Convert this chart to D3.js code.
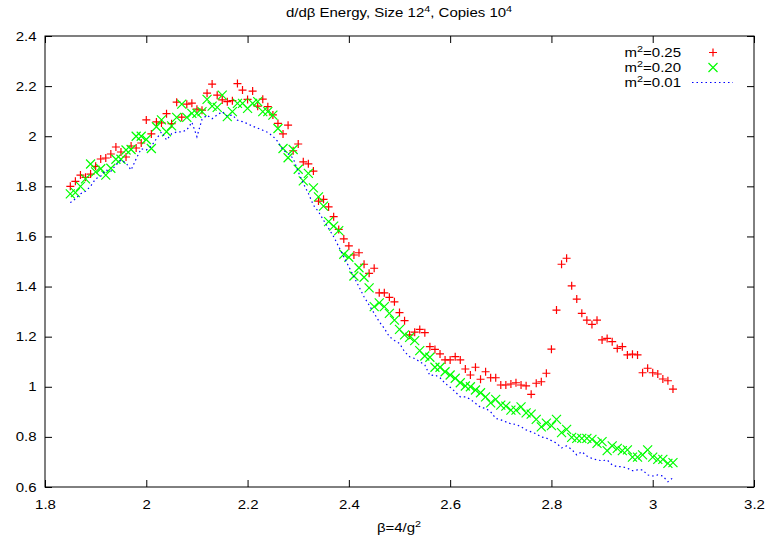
<!DOCTYPE html>
<html>
<head>
<meta charset="utf-8">
<script src="https://cdn.jsdelivr.net/npm/d3@7"></script>
<style>
  body { margin: 0; background: #fff; }
  svg { display: block; }
  text { font-family: "Liberation Sans", Arial, Helvetica, sans-serif; fill: #000; }
</style>
</head>
<body>
<svg id="chart" width="768" height="547"></svg>
<script>
// beta = 4/g^2 sample points
const beta = [
  1.85,1.86,1.87,1.88,1.89,1.90,1.91,1.92,1.93,1.94,
  1.95,1.96,1.97,1.98,1.99,2.00,2.01,2.02,2.03,2.04,
  2.05,2.06,2.07,2.08,2.09,2.10,2.11,2.12,2.13,2.14,
  2.15,2.16,2.17,2.18,2.19,2.20,2.21,2.22,2.23,2.24,
  2.25,2.26,2.27,2.28,2.29,2.30,2.31,2.32,2.33,2.34,
  2.35,2.36,2.37,2.38,2.39,2.40,2.41,2.42,2.43,2.44,
  2.45,2.46,2.47,2.48,2.49,2.50,2.51,2.52,2.53,2.54,
  2.55,2.56,2.57,2.58,2.59,2.60,2.61,2.62,2.63,2.64,
  2.65,2.66,2.67,2.68,2.69,2.70,2.71,2.72,2.73,2.74,
  2.75,2.76,2.77,2.78,2.79,2.80,2.81,2.82,2.83,2.84,
  2.85,2.86,2.87,2.88,2.89,2.90,2.91,2.92,2.93,2.94,
  2.95,2.96,2.97,2.98,2.99,3.00,3.01,3.02,3.03,3.04
];

// d/dbeta Energy, m^2 = 0.25
const m2_025 = [
  1.80,1.82,1.845,1.836,1.849,1.88,1.909,1.913,1.929,1.957,
  1.937,1.917,1.961,1.953,1.973,2.065,2.009,2.057,2.053,2.09,
  2.05,2.136,2.076,2.128,2.132,2.108,2.104,2.172,2.208,2.164,
  2.145,2.138,2.142,2.21,2.184,2.147,2.18,2.12,2.148,2.118,
  2.085,2.051,2.009,2.044,1.942,1.969,1.898,1.89,1.861,1.741,
  1.748,1.718,1.679,1.628,1.59,1.562,1.526,1.535,1.489,1.453,
  1.473,1.375,1.375,1.357,1.339,1.296,1.264,1.207,1.218,1.229,
  1.216,1.16,1.149,1.131,1.107,1.107,1.12,1.107,1.071,1.047,
  1.078,1.03,1.06,1.036,1.036,1.007,1.007,1.011,1.016,1.007,
  1.004,0.97,1.014,1.02,1.054,1.15,1.306,1.489,1.513,1.403,
  1.35,1.293,1.266,1.249,1.266,1.187,1.193,1.18,1.153,1.16,
  1.127,1.13,1.127,1.056,1.074,1.056,1.051,1.031,1.024,0.991
];

// m^2 = 0.20
const m2_020 = [
  1.77,1.775,1.80,1.83,1.889,1.858,1.87,1.845,1.872,1.908,
  1.908,1.945,1.947,2.0,2.0,1.987,1.951,2.038,2.065,2.018,
  2.041,2.075,2.128,2.075,2.091,2.091,2.098,2.147,2.12,2.115,
  2.164,2.078,2.098,2.131,2.131,2.111,2.131,2.138,2.098,2.098,
  2.084,2.031,1.951,1.914,1.947,1.868,1.822,1.852,1.794,1.758,
  1.721,1.659,1.641,1.623,1.529,1.517,1.442,1.475,1.437,1.395,
  1.32,1.335,1.32,1.293,1.266,1.229,1.207,1.197,1.184,1.144,
  1.123,1.118,1.078,1.078,1.06,1.047,1.034,1.016,1.003,1.0,
  0.987,0.976,0.96,0.936,0.95,0.927,0.923,0.907,0.907,0.92,
  0.896,0.891,0.87,0.84,0.855,0.845,0.87,0.817,0.83,0.798,
  0.794,0.794,0.794,0.79,0.774,0.781,0.745,0.764,0.754,0.745,
  0.748,0.719,0.719,0.728,0.748,0.719,0.71,0.71,0.694,0.697
];

// m^2 = 0.01
const m2_001 = [
  1.735,1.75,1.77,1.78,1.80,1.83,1.84,1.865,1.86,1.885,
  1.905,1.893,1.865,1.91,1.95,1.945,1.96,1.99,2.017,1.985,
  2.01,2.017,2.017,2.025,2.056,1.998,2.067,2.084,2.07,2.085,
  2.098,2.08,2.085,2.064,2.058,2.05,2.04,2.032,2.024,2.015,
  2.0,1.978,1.945,1.93,1.912,1.858,1.812,1.772,1.725,1.699,
  1.665,1.632,1.599,1.559,1.519,1.479,1.439,1.399,1.359,1.326,
  1.293,1.26,1.233,1.2,1.185,1.173,1.14,1.12,1.113,1.1,
  1.087,1.045,1.047,1.036,1.014,0.998,0.98,0.96,0.96,0.95,
  0.934,0.918,0.914,0.9,0.874,0.868,0.86,0.852,0.85,0.84,
  0.828,0.82,0.812,0.80,0.795,0.785,0.775,0.756,0.764,0.75,
  0.728,0.741,0.724,0.714,0.708,0.705,0.708,0.688,0.681,0.681,
  0.675,0.665,0.668,0.668,0.648,0.644,0.648,0.644,0.621,0.637
];

const xTicks = [1.8, 2.0, 2.2, 2.4, 2.6, 2.8, 3.0, 3.2];
const yTicks = [0.6, 0.8, 1.0, 1.2, 1.4, 1.6, 1.8, 2.0, 2.2, 2.4];
const legendValues = ["0.25", "0.20", "0.01"];

const svg = d3.select("#chart");
const plotLeft = 45, plotRight = 754, plotTop = 36, plotBottom = 487;

const x = d3.scaleLinear().domain([1.8, 3.2]).range([plotLeft, plotRight]);
const y = d3.scaleLinear().domain([0.6, 2.4]).range([plotBottom, plotTop]);
const fmt = d3.format("");
const tickLen = 7;
const fontSize = "12.5px";
const supSize = "9px";
const stretch = 1.2;   // the plotting font is set slightly wide

// text placed at (px,py), widened horizontally around its anchor
const wideText = (parent, px, py, anchor) =>
  parent.append("text")
    .attr("transform", `translate(${px},${py}) scale(${stretch},1)`)
    .attr("text-anchor", anchor)
    .style("font-size", fontSize);

// Title
const title = wideText(svg, 399, 17, "middle");
title.append("tspan").text("d/dβ Energy, Size 12");
title.append("tspan").attr("dy", -5).style("font-size", supSize).text("4");
title.append("tspan").attr("dy", 5).text(", Copies 10");
title.append("tspan").attr("dy", -5).style("font-size", supSize).text("4");

// Axes (ticks point inward, mirrored on top/right)
const styleAxis = g => {
  g.select(".domain").remove();
  g.selectAll(".tick line").attr("stroke", "#000").attr("stroke-width", 1);
  g.selectAll(".tick text").style("font-size", fontSize)
    .style("font-family", "'Liberation Sans', Arial, sans-serif").attr("fill", "#000");
};

svg.append("g").attr("transform", `translate(0,${plotBottom})`)
  .call(d3.axisBottom(x).tickValues(xTicks).tickFormat(fmt).tickSize(-tickLen).tickPadding(13))
  .call(styleAxis)
  .call(g => g.selectAll(".tick text").attr("transform", `scale(${stretch},1)`));
svg.append("g").attr("transform", `translate(0,${plotTop})`)
  .call(d3.axisTop(x).tickValues(xTicks).tickFormat("").tickSize(-tickLen))
  .call(styleAxis);
svg.append("g").attr("transform", `translate(${plotLeft},0)`)
  .call(d3.axisLeft(y).tickValues(yTicks).tickFormat(fmt).tickSize(-tickLen).tickPadding(7))
  .call(styleAxis)
  .call(g => g.selectAll(".tick text").attr("transform", `scale(${stretch},1)`));
svg.append("g").attr("transform", `translate(${plotRight},0)`)
  .call(d3.axisRight(y).tickValues(yTicks).tickFormat("").tickSize(-tickLen))
  .call(styleAxis);

// Frame
svg.append("rect")
  .attr("x", plotLeft).attr("y", plotTop)
  .attr("width", plotRight - plotLeft).attr("height", plotBottom - plotTop)
  .attr("fill", "none").attr("stroke", "#000").attr("stroke-width", 1);

// X axis label
const xl = wideText(svg, 399, 532, "middle");
xl.append("tspan").text("β=4/g");
xl.append("tspan").attr("dy", -5).style("font-size", supSize).text("2");

// Marker shapes
const plusPath = "M-4,0H4M0,-4V4";
const crossPath = "M-4.5,-4.5L4.5,4.5M-4.5,4.5L4.5,-4.5";

const pts = vals => beta.map((b, i) => [b, vals[i]]);

const plot = svg.append("g");

plot.selectAll("path.p025").data(pts(m2_025)).join("path")
  .attr("class", "p025")
  .attr("d", plusPath)
  .attr("transform", d => `translate(${x(d[0])},${y(d[1])})`)
  .attr("stroke", "#ff0000").attr("stroke-width", 1.2).attr("fill", "none");

plot.selectAll("path.p020").data(pts(m2_020)).join("path")
  .attr("class", "p020")
  .attr("d", crossPath)
  .attr("transform", d => `translate(${x(d[0])},${y(d[1])})`)
  .attr("stroke", "#00ff00").attr("stroke-width", 1.2).attr("fill", "none");

const line = d3.line().x(d => x(d[0])).y(d => y(d[1]));
plot.append("path")
  .datum(pts(m2_001))
  .attr("d", line)
  .attr("fill", "none")
  .attr("stroke", "#0000ff")
  .attr("stroke-width", 1.2)
  .attr("stroke-dasharray", "1.5,3");

// Legend
const legendY = [52.5, 67.5, 82.5];
const lg = svg.append("g");
legendValues.forEach((v, i) => {
  const t = wideText(lg, 681, legendY[i] + 4.5, "end");
  t.append("tspan").text("m");
  t.append("tspan").attr("dy", -5).style("font-size", supSize).text("2");
  t.append("tspan").attr("dy", 5).text("=" + v);
});
lg.append("path").attr("d", plusPath)
  .attr("transform", `translate(713,${legendY[0]})`)
  .attr("stroke", "#ff0000").attr("stroke-width", 1.2).attr("fill", "none");
lg.append("path").attr("d", crossPath)
  .attr("transform", `translate(713,${legendY[1]})`)
  .attr("stroke", "#00ff00").attr("stroke-width", 1.2).attr("fill", "none");
lg.append("line")
  .attr("x1", 692).attr("x2", 733)
  .attr("y1", legendY[2]).attr("y2", legendY[2])
  .attr("stroke", "#0000ff").attr("stroke-width", 1.2)
  .attr("stroke-dasharray", "1.5,3");
</script>
</body>
</html>
